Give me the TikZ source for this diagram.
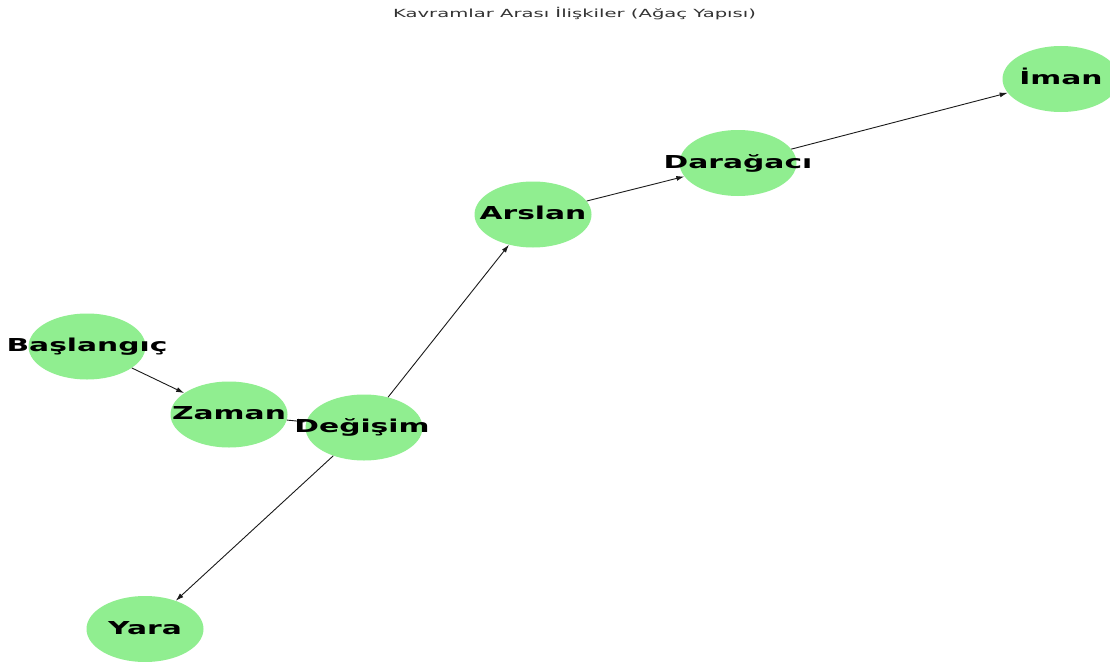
\documentclass[tikz,border=0pt]{standalone}
\usepackage{fontspec}
\setmainfont{DejaVu Sans}
\usetikzlibrary{shapes.geometric,arrows.meta}
\definecolor{nodegreen}{HTML}{90EE90}
\definecolor{edgecol}{HTML}{1A1A1A}
\tikzset{
  conc/.style={ellipse, fill=nodegreen, draw=none, minimum width=117pt, minimum height=66pt, inner sep=0pt},
  lbl/.style={anchor=base, inner sep=0pt, font=\fontsize{17.8}{20}\selectfont\bfseries},
  edge/.style={draw=edgecol, line width=0.9pt, -{Latex[length=8pt,width=5pt]}},
  ttl/.style={anchor=base, inner sep=0pt, text=black!80, font=\fontsize{11.2}{13}\selectfont}
}
\newcommand{\wide}[1]{\scalebox{1.67}[1]{#1}}
\newcommand{\widet}[1]{\scalebox{1.75}[1]{#1}}
\begin{document}
\begin{tikzpicture}[x=1pt,y=-1pt]
\useasboundingbox (0,0) rectangle (1110,661);
\clip (0,0) rectangle (1110,661);
\fill[white] (0,0) rectangle (1110,661);
% nodes
\node[conc] (b) at (87,346.5) {};
\node[conc] (z) at (229,414.5) {};
\node[conc] (d) at (364,427.5) {};
\node[conc] (a) at (533,214.5) {};
\node[conc] (dr) at (738,163) {};
\node[conc] (i) at (1061,79) {};
\node[conc] (y) at (145,629) {};
% edges
\draw[edge] (b) -- (z);
\draw[edge] (z) -- (d);
\draw[edge] (d) -- (a);
\draw[edge] (d) -- (y);
\draw[edge] (a) -- (dr);
\draw[edge] (dr) -- (i);
% labels
\node[lbl] (bl) at ([yshift=-5pt]b.center) {\wide{Başlangıç}};
\node[lbl] (zl) at ([yshift=-5pt]z.center) {\wide{Zaman}};
\node[lbl] (dl) at ([xshift=-2pt,yshift=-5pt]d.center) {\wide{Değişim}};
\node[lbl] (al) at ([yshift=-5pt]a.center) {\wide{Arslan}};
\node[lbl] (drl) at ([yshift=-5pt]dr.center) {\wide{Darağacı}};
\node[lbl] (il) at ([yshift=-5pt]i.center) {\wide{İman}};
\node[lbl] (yl) at ([yshift=-5pt]y.center) {\wide{Yara}};
% title
\node[ttl] (t) at (574.5,18) {\widet{Kavramlar Arası İlişkiler (Ağaç Yapısı)}};
\end{tikzpicture}
\end{document}
